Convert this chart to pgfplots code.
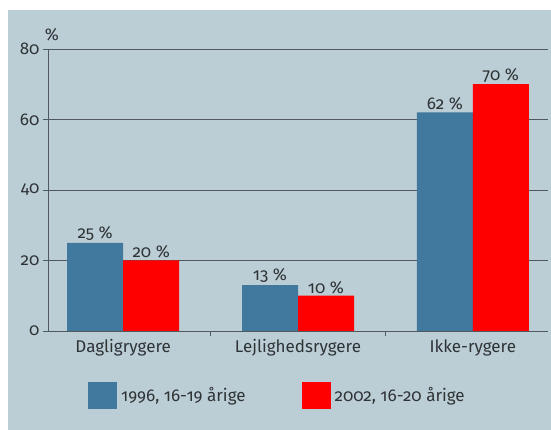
\documentclass[border=0pt]{standalone}
\usepackage{pgfplots}
\pgfplotsset{compat=1.18}
\usepackage{fontspec}
\setmainfont{Fira Sans}[Numbers=OldStyle]
\newcommand\lbl{\fontsize{17}{19}\selectfont}
\definecolor{bg}{HTML}{BCCED5}
\definecolor{bblue}{HTML}{41789E}
\definecolor{rred}{HTML}{FF0000}
\definecolor{gridc}{HTML}{50595D}
\definecolor{txt}{HTML}{2E3336}
\begin{document}
\begin{tikzpicture}[x=1pt,y=1pt]
\fill[white] (-48,-99) rectangle (503,331);
\fill[bg] (-40,-99) rectangle (503,321);
\begin{axis}[
  at={(0,0)}, anchor=south west,
  scale only axis, width=500pt, height=282pt,
  xmin=-0.43, xmax=2.43, ymin=0, ymax=80,
  axis lines*=left,
  axis line style={gridc, line width=0.9pt},
  ytick={0,20,40,60,80},
  ymajorgrids,
  grid style={gridc, line width=0.9pt},
  xtick={0.5,1.5}, xticklabels={},
  extra x ticks={0,1,2},
  extra x tick labels={Dagligrygere,Lejlighedsrygere,Ikke-rygere},
  extra x tick style={major tick length=0pt, xticklabel style={yshift=-5pt}},
  tick align=outside, major tick length=5pt,
  tick style={gridc, line width=0.9pt},
  /pgf/number format/assume math mode=true,
  ticklabel style={font=\lbl, text=txt},
  ybar=0pt, bar width=56pt,
  nodes near coords={\pgfmathprintnumber{\pgfplotspointmeta}~\%},
  nodes near coords style={font=\lbl, text=txt, inner sep=2pt},
  legend columns=2,
  legend style={at={(0.08,-0.227)}, anchor=west, draw=none, fill=none,
    inner sep=0pt, font=\lbl, text=txt,
    nodes={inner xsep=4pt},
    /tikz/every even column/.append style={column sep=52pt}},
  legend image code/.code={\fill[#1] (0pt,-13.5pt) rectangle (29pt,13.5pt);},
  clip=false,
]
\addplot[fill=bblue, draw=none] coordinates {(0,25) (1,13) (2,62)};
\addplot[fill=rred, draw=none] coordinates {(0,20) (1,10) (2,70)};
\legend{{1996, 16-19 årige},{2002, 16-20 årige}}
\node[font=\lbl, text=txt, anchor=south] at (rel axis cs:0,1) [xshift=4pt,yshift=4pt] {\%};
\end{axis}
\end{tikzpicture}
\end{document}
